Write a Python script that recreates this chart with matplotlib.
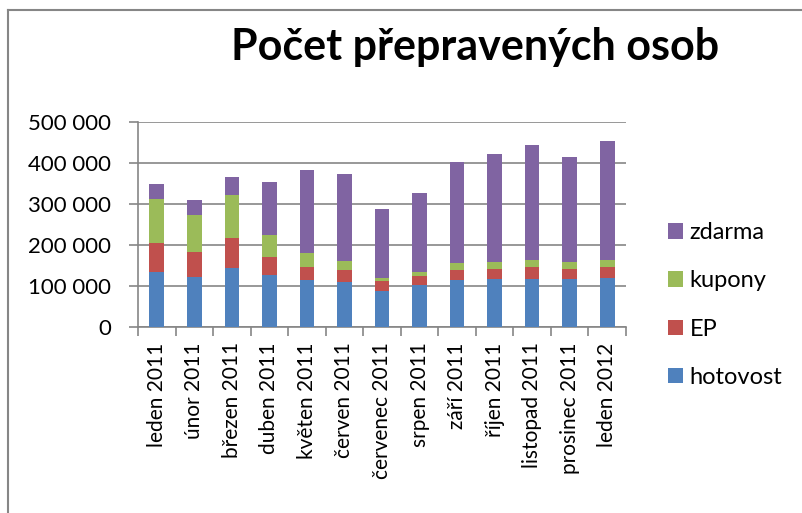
import numpy as np
import matplotlib.pyplot as plt
from matplotlib.ticker import FuncFormatter, FixedLocator

plt.rcParams['font.family'] = ['Lato', 'DejaVu Sans']

# data
mesice = ["leden 2011", "únor 2011", "březen 2011", "duben 2011", "květen 2011",
          "červen 2011", "červenec 2011", "srpen 2011", "září 2011", "říjen 2011",
          "listopad 2011", "prosinec 2011", "leden 2012"]
hotovost = [135000, 121000, 144000, 126000, 114000, 110000, 89000, 103000, 114000, 116000, 117000, 116000, 119000]
ep = [71000, 62000, 73000, 45000, 32000, 28000, 22000, 21000, 26000, 25000, 29000, 26000, 27000]
kupony = [107000, 91000, 105000, 54000, 35000, 22000, 9000, 10000, 16000, 18000, 18000, 16000, 17000]
zdarma = [37000, 35000, 45000, 129000, 201000, 213000, 167000, 193000, 247000, 262000, 281000, 257000, 291000]

barvy = ["#4F81BD", "#C0504D", "#9BBB59", "#8064A2"]
serie = [("hotovost", hotovost), ("EP", ep), ("kupony", kupony), ("zdarma", zdarma)]

fig = plt.figure(figsize=(8.03, 5.13), dpi=100)
ax = fig.add_axes([138/803, 1 - 327/513, 488/803, 205/513])

x = np.arange(len(mesice))
dole = np.zeros(len(mesice))
for (nazev, hodnoty), c in zip(serie, barvy):
    ax.bar(x, hodnoty, width=0.39, bottom=dole, color=c, label=nazev, zorder=3)
    dole += np.array(hodnoty)

ax.set_xlim(-0.5, len(mesice) - 0.5)
ax.set_ylim(0, 500000)
ax.set_yticks(np.arange(0, 500001, 100000))
ax.yaxis.set_major_formatter(FuncFormatter(lambda v, p: f"{int(v):,}".replace(",", " ")))
ax.grid(axis="y", color="#868686", linewidth=1.2, zorder=0)

ax.set_xticks(x)
ax.set_xticklabels(mesice, rotation=90)
ax.xaxis.set_minor_locator(FixedLocator(np.arange(-0.5, len(mesice), 1)))
ax.tick_params(axis="x", which="major", length=0, pad=11, labelsize=15)
ax.tick_params(axis="x", which="minor", length=6.5, width=1.2, color="#868686")
ax.tick_params(axis="y", length=6.5, width=1.2, color="#868686", pad=13, labelsize=16)

for s in ["top", "right"]:
    ax.spines[s].set_visible(False)
for s in ["left", "bottom"]:
    ax.spines[s].set_color("#868686")
    ax.spines[s].set_linewidth(1.2)

h, l = ax.get_legend_handles_labels()
fig.legend(h[::-1], l[::-1], loc="center left", bbox_to_anchor=(668/803, 1 - 305/513),
           frameon=False, fontsize=17, handlelength=0.62, handleheight=0.62,
           handletextpad=0.3, labelspacing=1.15, borderpad=0, borderaxespad=0)

fig.text(475/803, 1 - 47/513, "Počet přepravených osob", ha="center", va="center",
         fontsize=31, fontweight="bold")

# ramecek grafu
fig.add_artist(plt.Line2D([8/803, 8/803], [0, 1 - 10/513], color="#868686", linewidth=1.5))
fig.add_artist(plt.Line2D([8/803, 1], [1 - 10/513, 1 - 10/513], color="#868686", linewidth=1.5))

fig.savefig("out.png", dpi=100)
